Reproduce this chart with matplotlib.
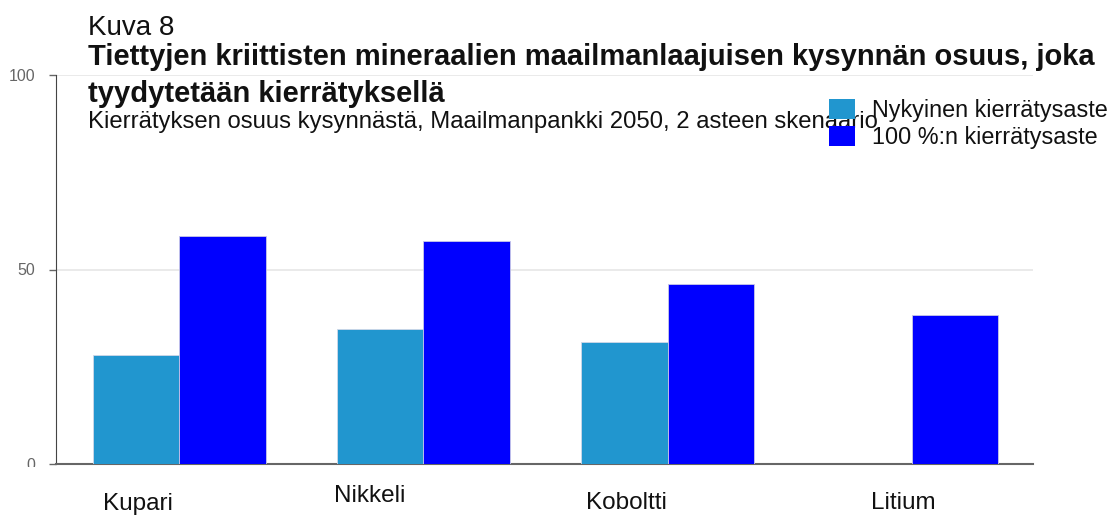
import numpy as np
import matplotlib
matplotlib.use("Agg")
import matplotlib.pyplot as plt
from matplotlib.patches import Rectangle

plt.rcParams['font.family'] = ['Liberation Sans', 'DejaVu Sans']

minerals = ["Kupari", "Nikkeli", "Koboltti", "Litium"]
current_rate = [28.0, 34.8, 31.3, 0.0]
full_rate = [58.7, 57.3, 46.4, 38.2]
series_names = ["Nykyinen kierrätysaste", "100 %:n kierrätysaste"]
yticks = [0, 50, 100]

# label positions are a bit off-centre in the original layout
label_dx = [-0.17, -0.22, -0.17, -0.035]
label_y = [-0.103, -0.083, -0.101, -0.101]

c_current = "#2196CF"
c_full = "#0000FF"

W, H = 1115, 515
fig = plt.figure(figsize=(W / 100, H / 100), dpi=100)
ax = fig.add_axes([55.5 / W, 1 - 464 / H, (1032.7 - 55.5) / W, (464 - 75) / H])

x = np.arange(len(minerals))
w = 0.355
ax.bar(x - w / 2, current_rate, w, color=c_current, edgecolor="#d0d8e8", linewidth=0.6, zorder=3)
ax.bar(x + w / 2, full_rate, w, color=c_full, edgecolor="#c8c8e8", linewidth=0.6, zorder=3)

ax.set_xlim(-0.507, len(minerals) - 0.504)
ax.set_ylim(0, 100)
ax.set_yticks(yticks)
ax.set_yticklabels([str(v) for v in yticks])
ax.set_xticks([])
ax.yaxis.grid(True, color="#e6e6e6", linewidth=1.2, zorder=0)
ax.set_axisbelow(True)
ax.tick_params(axis="y", labelsize=11.5, colors="#666666", length=5, width=1, pad=9.5)
for s in ["top", "right"]:
    ax.spines[s].set_visible(False)
ax.spines["left"].set_color("#444444")
ax.spines["bottom"].set_color("#666666")
ax.spines["bottom"].set_linewidth(1.5)

# the zero label gets cut off just under the baseline
clip = Rectangle((0, 1 - 467 / H), 1, 467 / H, transform=fig.transFigure, visible=False)
fig.canvas.draw()
ax.get_yticklabels()[0].set_clip_path(clip)

for i, name in enumerate(minerals):
    ax.text(i + label_dx[i], label_y[i], name, transform=ax.get_xaxis_transform(),
            ha="center", va="center", fontsize=17.5, color="#111111")

# titles
fig.text(88 / W, 1 - 35 / H, "Kuva 8", fontsize=20, va="baseline", color="#111111")
fig.text(88 / W, 1 - 65 / H, "Tiettyjen kriittisten mineraalien maailmanlaajuisen kysynnän osuus, joka",
         fontsize=21, fontweight="bold", va="baseline", color="#111111")
fig.text(88 / W, 1 - 101.5 / H, "tyydytetään kierrätyksellä",
         fontsize=21, fontweight="bold", va="baseline", color="#111111")
fig.text(88 / W, 1 - 128 / H,
         "Kierrätyksen osuus kysynnästä, Maailmanpankki 2050, 2 asteen skenaario",
         fontsize=17.2, va="baseline", color="#111111")

# legend drawn by hand
for k, (name, col) in enumerate(zip(series_names, [c_current, c_full])):
    top = 99 + k * 27
    fig.patches.append(Rectangle((829 / W, 1 - (top + 20) / H), 26 / W, 20 / H,
                                 transform=fig.transFigure, facecolor=col, edgecolor="none", zorder=5))
    fig.text(872 / W, 1 - (top + 11) / H, name, fontsize=16.8, va="center", color="#111111", zorder=6)

fig.savefig("out.png", dpi=100)
